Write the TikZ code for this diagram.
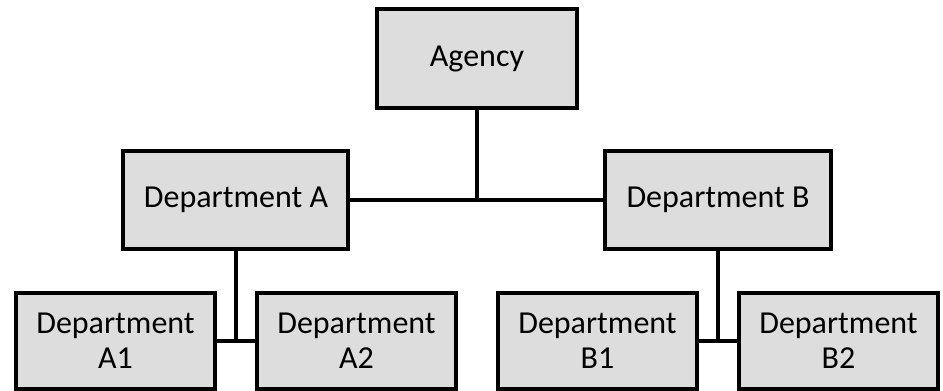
\documentclass[tikz,border=0pt]{standalone}
\usepackage{fontspec}
\setmainfont{Carlito}
\usetikzlibrary{positioning}
\definecolor{boxgray}{RGB}{221,221,221}

\begin{document}
\begin{tikzpicture}[
				node distance=21.5pt and 0pt,
				every node/.style={font=\fontsize{16}{17.5}\selectfont},
				unit/.style={rectangle, draw, line width=2pt, outer sep=0pt, fill=boxgray, minimum width=100pt, minimum height=49.5pt, align=center},
				dept/.style={unit, minimum width=112.5pt, minimum height=49pt},
				subdept/.style={unit, minimum width=99.5pt, minimum height=48pt},
				link/.style={line width=2pt}
				]
				\useasboundingbox (-238.5pt,29.25pt) rectangle (233pt,-166.25pt);
				% Nodes
				\node (agency) [unit] {Agency};
				\node (deptA) [dept, below=of agency, xshift=-120.5pt] {Department A};
				\node (deptB) [dept, below=of agency, xshift=120.5pt] {Department B};
				\node (deptA1) [subdept, below=22pt of deptA, xshift=-60.25pt] {Department\\A1};
				\node (deptA2) [subdept, below=22pt of deptA, xshift=60.25pt] {Department\\A2};
				\node (deptB1) [subdept, below=22pt of deptB, xshift=-60.25pt] {Department\\B1};
				\node (deptB2) [subdept, below=22pt of deptB, xshift=60.25pt] {Department\\B2};
				
				% Lines
				\draw [link] (agency.south) -- (agency.south |- deptA.east);
				\draw [link] (deptA.east) -- (deptB.west);
				\draw [link] (deptA.south) -- (deptA.south |- deptA1.east);
				\draw [link] (deptA1.east) -- (deptA2.west);
				\draw [link] (deptB.south) -- (deptB.south |- deptB1.east);
				\draw [link] (deptB1.east) -- (deptB2.west);
			\end{tikzpicture}
\end{document}
